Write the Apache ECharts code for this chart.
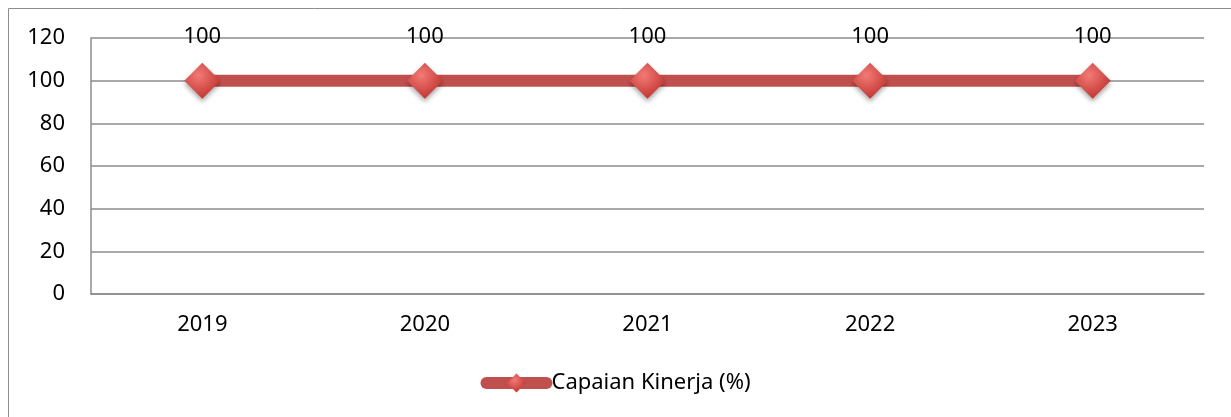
<!DOCTYPE html>
<html>
<head>
<meta charset="utf-8">
<style>
  html, body { margin: 0; padding: 0; background: #fff; }
  #chart { width: 1231px; height: 417px; }
</style>
<script src="https://cdn.jsdelivr.net/npm/echarts@6/dist/echarts.min.js"></script>
</head>
<body>
<div id="chart"></div>
<script>
const years = ['2019', '2020', '2021', '2022', '2023']
const capaian = [100, 100, 100, 100, 100]
const seriesName = 'Capaian Kinerja (%)'

const font = 'Noto Sans'
const red = '#c0504d'
const gridColor = '#8c8c8c'

const chart = echarts.init(document.getElementById('chart'))

chart.setOption({
  animation: false,
  textStyle: { fontFamily: font },
  graphic: [{
    type: 'rect',
    shape: { x: 8.5, y: 8.5, width: 1400, height: 600 },
    style: { fill: 'none', stroke: '#8c8c8c', lineWidth: 1 },
    silent: true,
    z: -10,
  }],
  grid: { left: 91, right: 27, top: 38, bottom: 123, containLabel: false },
  legend: {
    data: [seriesName],
    bottom: 18,
    left: 'center',
    itemWidth: 60,
    itemHeight: 24,
    itemGap: 0,
    lineStyle: { width: 12, cap: 'round' },
    textStyle: { fontSize: 22, color: '#000', fontFamily: font },
  },
  xAxis: {
    type: 'category',
    data: years,
    boundaryGap: true,
    axisLine: { lineStyle: { color: gridColor, width: 1.5 } },
    axisTick: { show: false },
    axisLabel: { color: '#000', fontSize: 22, margin: 20, fontFamily: font },
  },
  yAxis: {
    type: 'value',
    min: 0,
    max: 120,
    interval: 20,
    axisLine: { show: true, lineStyle: { color: gridColor, width: 1.5 } },
    axisTick: { show: false },
    axisLabel: { color: '#000', fontSize: 22, margin: 26, fontFamily: font },
    splitLine: { lineStyle: { color: gridColor, width: 1.5 } },
  },
  series: [{
    name: seriesName,
    type: 'line',
    data: capaian,
    symbol: 'diamond',
    symbolSize: 36,
    lineStyle: { color: red, width: 12 },
    itemStyle: {
      color: new echarts.graphic.RadialGradient(0.4, 0.35, 0.7, [
        { offset: 0, color: '#f27a76' },
        { offset: 1, color: '#c0312c' },
      ]),
      shadowColor: 'rgba(0,0,0,0.35)',
      shadowBlur: 5,
      shadowOffsetY: 3,
    },
    label: {
      show: true,
      position: 'top',
      distance: 15,
      color: '#000',
      fontSize: 22,
      fontFamily: font,
    },
  }],
})
</script>
</body>
</html>
